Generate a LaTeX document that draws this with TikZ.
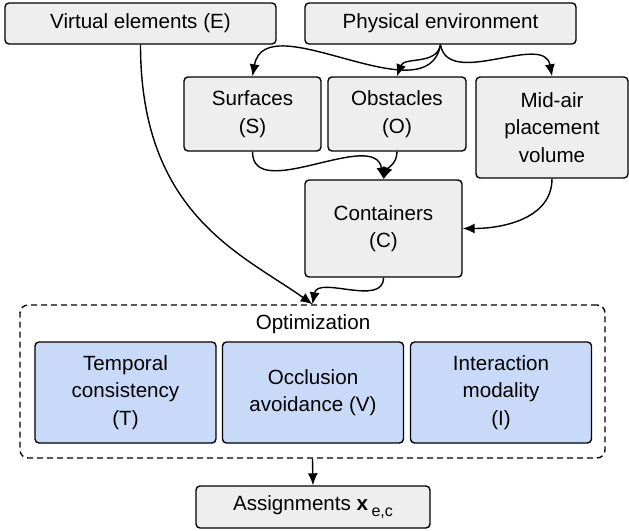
\documentclass[tikz,border=0pt]{standalone}
\usepackage{fontspec}
\setmainfont{Liberation Sans}
\usetikzlibrary{arrows.meta, calc}

\definecolor{boxgrey}{HTML}{EEEEEE}
\definecolor{optblue}{HTML}{C9DAF8}

\begin{document}
\begin{tikzpicture}[
      x=0.5pt, y=-0.5pt,
      every node/.style={font=\fontsize{10.3}{13.7}\selectfont},
      box/.style={rectangle, draw, rounded corners=2pt, line width=0.7pt, align=center, inner sep=2pt},
      greybox/.style={box, fill=boxgrey},
      critbox/.style={box, fill=optblue, minimum width=90.5pt, minimum height=50.5pt},
      groupbox/.style={rectangle, draw, dash pattern=on 3pt off 2pt, rounded corners=4pt, line width=0.7pt, minimum width=292.5pt, minimum height=76.5pt},
      arrow/.style={-{Latex[length=6pt,width=5pt]}, line width=0.7pt}
    ]
      \useasboundingbox (0,0) rectangle (629,531);

      % Row 0: Inputs
      \node[greybox, minimum width=135.5pt, minimum height=20.5pt] (virt) at (140.5,23.5) {Virtual elements (E)};
      \node[greybox, minimum width=135.5pt, minimum height=20.5pt] (phys) at (440.5,23.5) {Physical environment};

      % Row 1: Scene parts
      \node[greybox, minimum width=68.5pt, minimum height=37pt] (surf) at (252.5,114) {Surfaces\\(S)};
      \node[greybox, minimum width=69pt, minimum height=37pt] (obst) at (397,114) {Obstacles\\(O)};
      \node[greybox, minimum width=76pt, minimum height=50.5pt] (mid) at (552,127.5) {Mid-air\\placement\\volume};

      % Row 2: Containers
      \node[greybox, minimum width=78.5pt, minimum height=48.5pt] (cont) at (383.5,228.5) {Containers\\(C)};

      % Row 3: Optimization group
      \node[groupbox] (opt) at (312.5,381.5) {};
      \node (optlabel) at (313,324) {Optimization};
      \node[critbox] (temp) at (125.5,392.5) {Temporal\\consistency\\(T)};
      \node[critbox] (occl) at (313,392.5) {Occlusion\\avoidance (V)};
      \node[critbox] (inter) at (501,392.5) {Interaction\\modality\\(I)};

      % Row 4: Output
      \node[greybox, minimum width=117pt, minimum height=21pt] (asg) at (313,507) {Assignments \textbf{x}\,\raisebox{-0.55ex}{\fontsize{8}{9}\selectfont e,c}};

      % === ARROWS ===
      % Physical environment splits into parts
      \draw[arrow] (phys.south) to[out=-100, in=80] (surf.north);
      \draw[arrow] (phys.south) to[out=-100, in=70] (obst.north);
      \draw[arrow] (phys.south) to[out=-80, in=100] (mid.north);

      % Parts merge into Containers
      \draw[arrow] (surf.south) to[out=-90, in=100] (cont.north);
      \draw[arrow] (obst.south) to[out=-90, in=70] (cont.north);
      \draw[arrow] (mid.south) to[out=-90, in=0] (cont.east);

      % Into the optimization
      \draw[arrow] (virt.south) .. controls +(0,170) and +(-70,-50) .. (opt.north);
      \draw[arrow] (cont.south) to[out=-90, in=80] (opt.north);
      \draw[arrow] (opt.south) -- (asg.north);
    \end{tikzpicture}
\end{document}
